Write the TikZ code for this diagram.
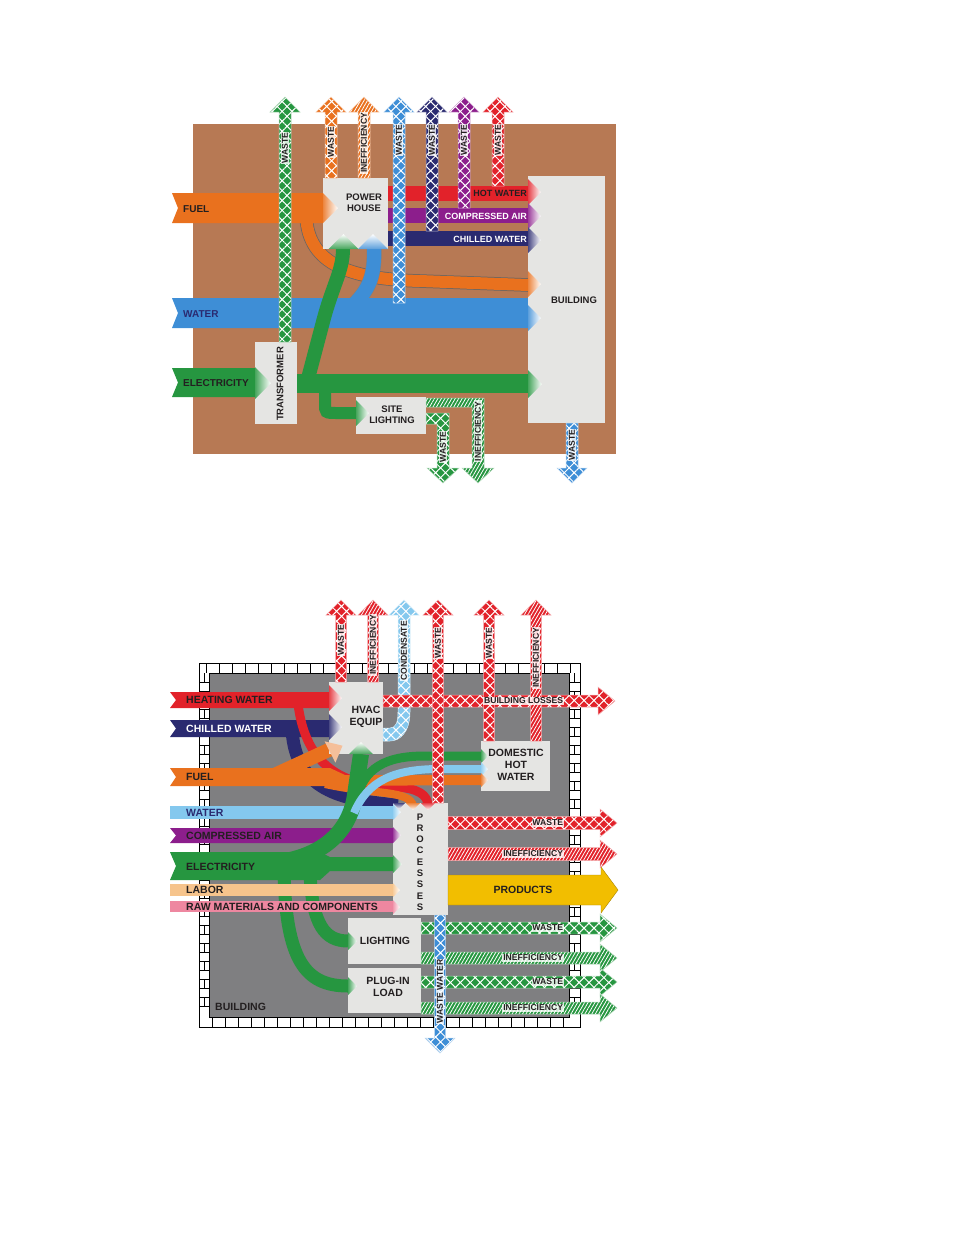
\documentclass[tikz,border=0pt]{standalone}
\usepackage{fontspec}
\setmainfont{Liberation Sans}
\usepackage{tikz}
\usetikzlibrary{patterns.meta}

\definecolor{brownc}{RGB}{183,121,84}
\definecolor{fuelc}{RGB}{233,113,30}
\definecolor{waterc}{RGB}{62,142,214}
\definecolor{elecc}{RGB}{38,150,64}
\definecolor{hotc}{RGB}{226,34,42}
\definecolor{airc}{RGB}{140,30,140}
\definecolor{chillc}{RGB}{42,42,112}
\definecolor{boxc}{RGB}{229,229,227}
\definecolor{bldgc}{RGB}{127,127,129}
\definecolor{lwaterc}{RGB}{132,200,238}
\definecolor{laborc}{RGB}{246,196,140}
\definecolor{rawc}{RGB}{238,135,160}
\definecolor{prodc}{RGB}{242,190,0}
\definecolor{inkc}{RGB}{35,31,32}

\tikzset{
box/.style={fill=boxc, inner sep=0pt, anchor=north west}, % light grey units
waste/.style={preaction={fill=#1}, pattern={Hatch[angle=45,distance=7pt,line width=1pt]}, pattern color=white, draw=#1!35!white, line width=0.5pt}, % cross-hatched losses
ineff/.style={preaction={fill=#1}, pattern={Lines[angle=60,distance=3pt,line width=0.8pt]}, pattern color=white, draw=#1!35!white, line width=0.5pt}, % striped losses
tag/.style={fill=white, fill opacity=0.8, text opacity=1, inner sep=0.8pt, text=inkc, font=\bfseries\fontsize{8.6}{8.6}\selectfont},
lbl/.style={anchor=west, inner sep=0pt, text=inkc, font=\bfseries\fontsize{10.5}{10.5}\selectfont}, % band names
unit/.style={align=center, inner sep=0pt, text=inkc, font=\bfseries\fontsize{9.5}{11}\selectfont},
brick/.style={black, line width=0.6pt},
}

% arrows: style, x, y start, y tip, half shaft
\newcommand{\flowup}[5]{\path[#1] ({#2-#5},#3) -- ({#2-#5},{#4+15}) -- ({#2-15},{#4+15}) -- (#2,#4) -- ({#2+15},{#4+15}) -- ({#2+#5},{#4+15}) -- ({#2+#5},#3) -- cycle;}
\newcommand{\flowdown}[5]{\path[#1] ({#2-#5},#3) -- ({#2-#5},{#4-15}) -- ({#2-15},{#4-15}) -- (#2,#4) -- ({#2+15},{#4-15}) -- ({#2+#5},{#4-15}) -- ({#2+#5},#3) -- cycle;}
% style, x start, y, x tip, half shaft, half head
\newcommand{\flowright}[6]{\path[#1] (#2,{#3-#5}) -- ({#4-17},{#3-#5}) -- ({#4-17},{#3-#6}) -- (#4,#3) -- ({#4-17},{#3+#6}) -- ({#4-17},{#3+#5}) -- (#2,{#3+#5}) -- cycle;}
% shaded inlet tips: colour, x, y, half
\newcommand{\tipright}[4]{\shade[left color=#1!85!white, right color=white] (#2,{#3-#4}) -- ({#2+#4},#3) -- (#2,{#3+#4}) -- cycle;}
\newcommand{\tipup}[4]{\shade[bottom color=#1!85!white, top color=white] ({#2-#4},#3) -- (#2,{#3-#4}) -- ({#2+#4},#3) -- cycle;}
\newcommand{\tipdown}[4]{\shade[top color=#1!85!white, bottom color=white] ({#2-#4},#3) -- (#2,{#3+#4}) -- ({#2+#4},#3) -- cycle;}
% notched input band: colour, x1, x2, y top, y bottom
\newcommand{\inband}[5]{\fill[#1] (#2,#4) -- (#3,#4) -- (#3,#5) -- (#2,#5) -- ({#2+6},{(#4+#5)/2}) -- cycle;}

\begin{document}
\begin{tikzpicture}[x=1pt, y=-1pt]
\useasboundingbox (0,0) rectangle (954,1235);

%%%%% site diagram
\fill[brownc] (193,124) rectangle (616,454);

\draw[fuelc, line width=12pt, preaction={draw=black!60, line width=13.5pt}] (306,212) .. controls (306,262) and (345,279) .. (420,281) -- (528,285);
\draw[waterc, line width=14pt, preaction={draw=black!50, line width=15pt}] (350,308) .. controls (370,290) and (375,275) .. (374,247);
\inband{waterc}{172}{528}{298}{328}

\inband{elecc}{172}{255}{368}{397}
\draw[elecc, line width=12pt] (325,385) -- (325,403) .. controls (325,413) .. (337,413) -- (357,413);
\draw[elecc, line width=14pt] (306,386) -- (324,318) .. controls (333,285) and (343,270) .. (343,249);
\fill[elecc] (297,374) rectangle (528,393);

\inband{fuelc}{172}{324}{193}{223}
\fill[hotc] (388,186) rectangle (528,201);
\fill[airc] (388,208) rectangle (528,223);
\fill[chillc] (388,231) rectangle (528,246);

\node[box, minimum width=65, minimum height=71] (powerhouse) at (323,178) {};
\node[box, minimum width=77, minimum height=247] (building) at (528,176) {};
\node[box, minimum width=42, minimum height=82] (transformer) at (255,342) {};
\node[box, minimum width=70, minimum height=37] (sitelight) at (356,397) {};

\tipright{fuelc}{323}{208}{15}
\tipup{elecc}{343.5}{249}{15}
\tipup{waterc}{373}{249}{15}
\tipright{hotc}{528}{192}{13}
\tipright{airc}{528}{216}{13}
\tipright{chillc}{528}{240}{13}
\tipright{fuelc}{528}{284}{13}
\tipright{waterc}{528}{318}{13}
\tipright{elecc}{528}{384}{14}
\tipright{elecc}{255}{383}{16}
\tipright{elecc}{356}{413}{13}

\flowup{waste=elecc}{285}{342}{97}{6}
\flowup{waste=fuelc}{331}{178}{97}{6}
\flowup{ineff=fuelc}{364}{178}{97}{6}
\flowup{waste=waterc}{399}{303}{97}{6}
\flowup{waste=chillc}{432}{231}{97}{6}
\flowup{waste=airc}{464}{208}{97}{6}
\flowup{waste=hotc}{498}{186}{97}{6}
\path[waste=elecc] (426,413) -- (449,413) -- (449,468) -- (459,468) -- (443,483) -- (427,468) -- (437,468) -- (437,424) -- (426,424) -- cycle;
\path[ineff=elecc] (426,398) -- (484,398) -- (484,468) -- (494,468) -- (478,483) -- (462,468) -- (472,468) -- (472,407) -- (426,407) -- cycle;
\flowdown{waste=waterc}{572}{423}{483}{6}

\node[tag, rotate=90, anchor=east] (sw1) at (285,132) {WASTE};
\node[tag, rotate=90, anchor=east] (sw2) at (331,126) {WASTE};
\node[tag, rotate=90, anchor=east] (si1) at (364,112) {INEFFICIENCY};
\node[tag, rotate=90, anchor=east] (sw3) at (399,124) {WASTE};
\node[tag, rotate=90, anchor=east] (sw4) at (432,124) {WASTE};
\node[tag, rotate=90, anchor=east] (sw5) at (464,124) {WASTE};
\node[tag, rotate=90, anchor=east] (sw6) at (498,124) {WASTE};
\node[tag, rotate=90, anchor=west] (sw7) at (443,463) {WASTE};
\node[tag, rotate=90, anchor=west] (si2) at (478,462) {INEFFICIENCY};
\node[tag, rotate=90, anchor=west] (sw8) at (572,461) {WASTE};

\node[lbl, font=\bfseries\fontsize{10}{10}\selectfont] (sfuel) at (183,209) {FUEL};
\node[lbl, text=chillc, font=\bfseries\fontsize{10}{10}\selectfont] (swater) at (183,314) {WATER};
\node[lbl, font=\bfseries\fontsize{10}{10}\selectfont] (selec) at (183,383) {ELECTRICITY};
\node[lbl, anchor=east, font=\bfseries\fontsize{9}{9}\selectfont] (shot) at (527,193.5) {HOT WATER};
\node[lbl, anchor=east, text=white, font=\bfseries\fontsize{9}{9}\selectfont] (sair) at (527,216) {COMPRESSED AIR};
\node[lbl, anchor=east, text=white, font=\bfseries\fontsize{9}{9}\selectfont] (schill) at (527,239) {CHILLED WATER};

\node[unit] (phtext) at (364,203) {POWER\\HOUSE};
\node[unit] (bldtext) at (574,300) {BUILDING};
\node[unit, rotate=90] (trtext) at (280,384) {TRANSFORMER};
\node[unit] (sltext) at (392,415) {SITE\\LIGHTING};

%%%%% building diagram
\fill[white] (199,663) rectangle (580,1027);
\foreach \x in {206,219,...,576} \draw[brick] (\x,663) -- (\x,673);
\foreach \x in {212,225,...,569} \draw[brick] (\x,1017) -- (\x,1027);
\foreach \y in {682,691,...,1012} {\draw[brick] (199,\y) -- (209,\y); \draw[brick] (569,\y) -- (580,\y);}
\foreach \y in {673,691,...,1009} {\draw[brick] (204,\y) -- (204,\y+9); \draw[brick] (574.5,\y) -- (574.5,\y+9);}
\fill[bldgc] (209,673) rectangle (569,1017);
\draw[brick, line width=0.8pt] (199,663) rectangle (580,1027) (209,673) rectangle (569,1017);

% flows into the building
\inband{hotc}{170}{330}{692}{708}
\inband{chillc}{170}{330}{720}{737}
\draw[chillc, line width=13pt] (292,730) .. controls (296,790) and (340,800) .. (398,805);
\draw[hotc, line width=9pt] (298,704) .. controls (306,768) and (345,786) .. (395,787) .. controls (418,788) and (428,795) .. (428,806);
\draw[fuelc, line width=14pt] (270,777) -- (333,748);
\fill[fuelc] (170,768) -- (330,768) -- (345,775) -- (481,775) -- (481,785) -- (330,786) -- (170,786) -- (176,777) -- cycle;
\draw[fuelc, line width=8pt] (325,784) .. controls (375,795) and (410,790) .. (413,806);
\fill[lwaterc] (170,806) rectangle (394,819);
\inband{airc}{170}{394}{828}{843}
\draw[elecc, line width=13pt] (284,872) .. controls (286,960) and (305,986) .. (348,986);
\draw[elecc, line width=13pt] (310,872) .. controls (312,925) and (325,941) .. (348,941);
\fill[elecc] (170,852) -- (320,852) -- (330,857) -- (394,857) -- (394,871) -- (330,871) -- (320,880) -- (170,880) -- (176,866) -- cycle;
\draw[elecc, line width=16pt] (280,862) .. controls (325,855) and (350,830) .. (355,795) -- (361,754);
\draw[elecc, line width=9pt] (356,800) .. controls (364,768) and (385,756) .. (425,756) -- (481,756);
\draw[lwaterc, line width=8pt] (354,813) .. controls (368,780) and (395,769) .. (440,769) -- (481,769);
\fill[laborc] (170,884) rectangle (394,896);
\fill[rawc] (170,901) rectangle (394,912);

\node[box, minimum width=54, minimum height=72] (hvac) at (329,682) {};
\node[box, minimum width=69, minimum height=50] (dhw) at (481,741) {};
\node[box, minimum width=55, minimum height=112] (processes) at (393,803) {};
\node[box, minimum width=73, minimum height=46] (lighting) at (348,918) {};
\node[box, minimum width=73, minimum height=45] (plugin) at (348,968) {};

\tipright{hotc}{329}{698}{13}
\tipright{chillc}{329}{727}{13}
\fill[fuelc!45!white] (324.6,741.3) -- (342.5,745.7) -- (335.4,762.7) -- cycle;
\tipup{elecc}{361}{754}{12}
\tipright{lwaterc}{393}{812}{8}
\tipright{airc}{393}{835}{8}
\tipright{elecc}{393}{864}{9}
\tipright{laborc}{393}{890}{7}
\tipright{rawc}{393}{907}{7}
\tipdown{chillc}{399}{803}{6}
\tipdown{fuelc}{413}{803}{7}
\tipdown{hotc}{428}{803}{7}
\tipright{elecc}{481}{756}{7}
\tipright{lwaterc}{481}{769}{7}
\tipright{fuelc}{481}{780}{7}
\tipright{elecc}{348}{941}{9}
\tipright{elecc}{348}{986}{9}

% flows out of the building
\flowup{waste=hotc}{341}{682}{600}{5.5}
\flowup{ineff=hotc}{373}{682}{600}{5.5}
\path[waste=lwaterc] (383,728) -- (390,728) .. controls (396,728) and (398,722) .. (398,712) -- (398,615) -- (389,615) -- (404,600) -- (419,615) -- (410,615) -- (410,712) .. controls (410,732) and (400,741) .. (390,741) -- (383,741) -- cycle;
\flowright{waste=hotc}{383}{701}{615}{6}{14}
\flowup{waste=hotc}{438}{803}{600}{5.5}
\flowup{waste=hotc}{489}{741}{600}{5.5}
\flowup{ineff=hotc}{536}{741}{600}{5.5}
\flowright{waste=hotc}{448}{823}{617}{6.5}{14}
\flowright{ineff=hotc}{448}{854}{617}{6.5}{14}
\flowright{fill=prodc, draw=prodc!70!black, line width=0.4pt}{448}{890}{618}{15}{23}
\flowright{waste=elecc}{421}{928}{617}{6}{14}
\flowright{ineff=elecc}{421}{958}{617}{6}{14}
\flowright{waste=elecc}{421}{982}{617}{6}{14}
\flowright{ineff=elecc}{421}{1008}{617}{6}{14}
\flowdown{waste=waterc}{440}{915}{1053}{5.5}

\node[tag, rotate=90, anchor=east] (bw1) at (341,624) {WASTE};
\node[tag, rotate=90, anchor=east] (bi1) at (373,614) {INEFFICIENCY};
\node[tag, rotate=90, anchor=east] (bc1) at (404,620) {CONDENSATE};
\node[tag, rotate=90, anchor=east] (bw2) at (438,627) {WASTE};
\node[tag, rotate=90, anchor=east] (bw3) at (489,627) {WASTE};
\node[tag, rotate=90, anchor=east] (bi2) at (536,627) {INEFFICIENCY};
\node[tag, rotate=90, anchor=west] (bww) at (440,1024) {WASTE WATER};
\node[tag, anchor=east] (bloss) at (564,701) {BUILDING LOSSES};
\node[tag, anchor=east] (pw) at (564,823) {WASTE};
\node[tag, anchor=east] (pi) at (564,854) {INEFFICIENCY};
\node[tag, anchor=east] (lw) at (564,928) {WASTE};
\node[tag, anchor=east] (li) at (564,958) {INEFFICIENCY};
\node[tag, anchor=east] (plw) at (564,982) {WASTE};
\node[tag, anchor=east] (pli) at (564,1008) {INEFFICIENCY};

\node[lbl] (bheat) at (186,700) {HEATING WATER};
\node[lbl, text=white] (bchill) at (186,729) {CHILLED WATER};
\node[lbl] (bfuel) at (186,777) {FUEL};
\node[lbl, text=chillc] (bwater) at (186,812.5) {WATER};
\node[lbl] (bair) at (186,835.5) {COMPRESSED AIR};
\node[lbl] (belec) at (186,867) {ELECTRICITY};
\node[lbl] (blabor) at (186,890) {LABOR};
\node[lbl] (braw) at (186,907) {RAW MATERIALS AND COMPONENTS};
\node[lbl] (bbldg) at (215,1007) {BUILDING};

\node[unit, font=\bfseries\fontsize{10.5}{11.5}\selectfont] (hvactext) at (366,717) {HVAC\\EQUIP};
\node[unit, font=\bfseries\fontsize{10.5}{12}\selectfont] (dhwtext) at (516,765) {DOMESTIC\\HOT\\WATER};
\node[unit, font=\bfseries\fontsize{9.5}{11.3}\selectfont] (proctext) at (420,862) {P\\R\\O\\C\\E\\S\\S\\E\\S};
\node[unit, font=\bfseries\fontsize{10.5}{12}\selectfont] (lighttext) at (385,941) {LIGHTING};
\node[unit, font=\bfseries\fontsize{10.5}{12}\selectfont] (plugtext) at (388,987) {PLUG-IN\\LOAD};
\node[unit, font=\bfseries\fontsize{10.5}{12}\selectfont] (prodtext) at (523,890) {PRODUCTS};
\end{tikzpicture}
\end{document}
